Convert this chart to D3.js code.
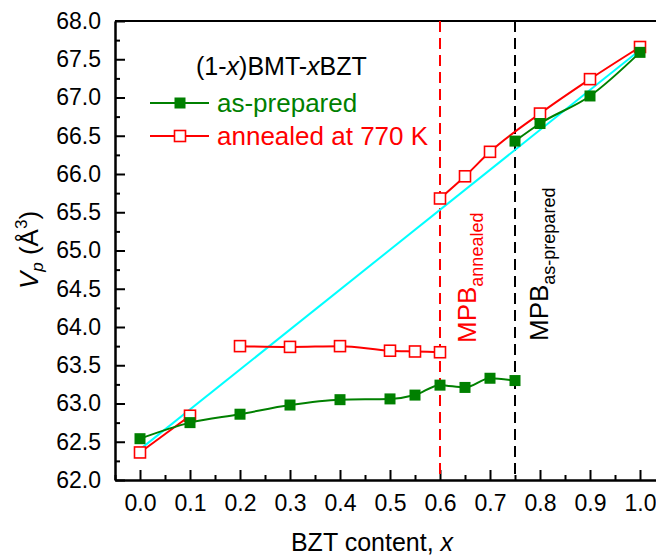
<!DOCTYPE html>
<html>
<head>
<meta charset="utf-8">
<script src="https://cdn.jsdelivr.net/npm/d3@7"></script>
<style>
  body { margin: 0; background: #fff; }
  svg { display: block; font-family: "Liberation Sans", Arial, sans-serif; }
  .axis text { font-size: 23px; fill: #000; }
  .axis path, .axis line { stroke: #000; stroke-width: 2px; }
</style>
</head>
<body>
<div id="chart"></div>
<script>
// BZT content x for each series
var xPrepLow = [0.0, 0.1, 0.2, 0.3, 0.4, 0.5, 0.55, 0.6, 0.65, 0.7, 0.75];
var vPrepLow = [62.54, 62.75, 62.86, 62.98, 63.05, 63.06, 63.11, 63.24, 63.21, 63.33, 63.30];
var xPrepHigh = [0.75, 0.8, 0.9, 1.0];
var vPrepHigh = [66.43, 66.66, 67.02, 67.59];

var xAnnA = [0.0, 0.1];
var vAnnA = [62.36, 62.84];
var xAnnLow = [0.2, 0.3, 0.4, 0.5, 0.55, 0.6];
var vAnnLow = [63.75, 63.74, 63.75, 63.69, 63.68, 63.67];
var xAnnHigh = [0.6, 0.65, 0.7, 0.8, 0.9, 1.0];
var vAnnHigh = [65.68, 65.97, 66.29, 66.79, 67.24, 67.66];

// straight reference line (Vegard)
var xFit = [0.0, 1.0];
var vFit = [62.40, 67.62];

// MPB positions
var mpbAnnealed = 0.6;
var mpbPrepared = 0.75;

var xTicks = [0.0, 0.1, 0.2, 0.3, 0.4, 0.5, 0.6, 0.7, 0.8, 0.9, 1.0];
var yTicks = [62.0, 62.5, 63.0, 63.5, 64.0, 64.5, 65.0, 65.5, 66.0, 66.5, 67.0, 67.5, 68.0];

var W = 656, H = 555;
var margin = { top: 21, left: 115, bottom: 75 };

var svg = d3.select("#chart").append("svg")
    .attr("width", W)
    .attr("height", H);

var x = d3.scaleLinear().domain([-0.05, 1.05]).range([margin.left, 665]);
var y = d3.scaleLinear().domain([62, 68]).range([H - margin.bottom, margin.top]);

var GREEN = "#008000", RED = "#ff0000", CYAN = "#00ffff";

// minor ticks
var xMinor = d3.range(-0.05, 1.06, 0.1).map(function (d) { return +d.toFixed(2); });
var yMinor = d3.range(62.25, 68, 0.5);

svg.append("g").attr("class", "axis")
    .attr("transform", "translate(0," + y(62) + ")")
    .call(d3.axisBottom(x).tickValues(xMinor).tickSizeInner(-5).tickSizeOuter(0).tickFormat(""));
svg.append("g").attr("class", "axis")
    .attr("transform", "translate(" + x(-0.05) + ",0)")
    .call(d3.axisLeft(y).tickValues(yMinor).tickSizeInner(-5).tickSizeOuter(0).tickFormat(""));

svg.append("g").attr("class", "axis")
    .attr("transform", "translate(0," + y(62) + ")")
    .call(d3.axisBottom(x).tickValues(xTicks).tickSizeInner(-10).tickSizeOuter(0)
        .tickPadding(15).tickFormat(d3.format(".1f")));
svg.append("g").attr("class", "axis")
    .attr("transform", "translate(" + x(-0.05) + ",0)")
    .call(d3.axisLeft(y).tickValues(yTicks).tickSizeInner(-10).tickSizeOuter(0)
        .tickPadding(14).tickFormat(d3.format(".1f")));

// top frame line
svg.append("line")
    .attr("x1", x(-0.05)).attr("x2", x(1.05))
    .attr("y1", y(68)).attr("y2", y(68))
    .attr("stroke", "#000").attr("stroke-width", 2);

// MPB dashed lines
[[mpbAnnealed, RED], [mpbPrepared, "#000"]].forEach(function (m) {
    svg.append("line")
        .attr("x1", x(m[0])).attr("x2", x(m[0]))
        .attr("y1", y(68)).attr("y2", y(62))
        .attr("stroke", m[1]).attr("stroke-width", 2)
        .attr("stroke-dasharray", "11,6");
});

function zip(xs, vs) { return xs.map(function (d, i) { return [d, vs[i]]; }); }

var line = d3.line()
    .x(function (d) { return x(d[0]); })
    .y(function (d) { return y(d[1]); })
    .curve(d3.curveMonotoneX);

// reference line
svg.append("path")
    .attr("d", line(zip(xFit, vFit)))
    .attr("fill", "none").attr("stroke", CYAN).attr("stroke-width", 2);

var S = 11;
function drawSeries(pts, color, filled) {
    svg.append("path")
        .attr("d", line(pts))
        .attr("fill", "none").attr("stroke", color).attr("stroke-width", 2);
    svg.append("g").selectAll("rect")
        .data(pts).enter().append("rect")
        .attr("x", function (d) { return x(d[0]) - S / 2; })
        .attr("y", function (d) { return y(d[1]) - S / 2; })
        .attr("width", S).attr("height", S)
        .attr("fill", filled ? color : "#fff")
        .attr("stroke", color).attr("stroke-width", filled ? 0 : 1.6);
}

drawSeries(zip(xAnnA, vAnnA), RED, false);
drawSeries(zip(xAnnLow, vAnnLow), RED, false);
drawSeries(zip(xAnnHigh, vAnnHigh), RED, false);
drawSeries(zip(xPrepLow, vPrepLow), GREEN, true);
drawSeries(zip(xPrepHigh, vPrepHigh), GREEN, true);

// legend
var lg = svg.append("g");
var title = lg.append("text").attr("x", 196).attr("y", 75).attr("font-size", 25);
title.append("tspan").text("(1-");
title.append("tspan").attr("font-style", "italic").text("x");
title.append("tspan").text(")BMT-");
title.append("tspan").attr("font-style", "italic").text("x");
title.append("tspan").text("BZT");

[["as-prepared", GREEN, true, 103], ["annealed at 770 K", RED, false, 136]].forEach(function (e) {
    lg.append("line").attr("x1", 150).attr("x2", 209).attr("y1", e[3]).attr("y2", e[3])
        .attr("stroke", e[1]).attr("stroke-width", 2);
    lg.append("rect").attr("x", 180 - S / 2).attr("y", e[3] - S / 2).attr("width", S).attr("height", S)
        .attr("fill", e[2] ? e[1] : "#fff").attr("stroke", e[1]).attr("stroke-width", e[2] ? 0 : 1.6);
    lg.append("text").attr("x", 217).attr("y", e[3] + 9).attr("font-size", 26)
        .attr("fill", e[1]).text(e[0]);
});

// MPB labels
function mpbLabel(xv, dx, yPos, sub, color) {
    var t = svg.append("text")
        .attr("transform", "translate(" + (x(xv) + dx) + "," + yPos + ") rotate(-90)")
        .attr("fill", color).attr("font-size", 26);
    t.append("tspan").text("MPB");
    t.append("tspan").attr("font-size", 18).attr("dy", 7).text(sub);
}
mpbLabel(mpbAnnealed, 36, 343, "annealed", RED);
mpbLabel(mpbPrepared, 33, 341, "as-prepared", "#000");

// axis titles
var xt = svg.append("text").attr("x", 372).attr("y", 551).attr("text-anchor", "middle").attr("font-size", 25);
xt.append("tspan").text("BZT content, ");
xt.append("tspan").attr("font-style", "italic").text("x");

var yt = svg.append("text")
    .attr("transform", "translate(38,250) rotate(-90)")
    .attr("text-anchor", "middle").attr("font-size", 26);
yt.append("tspan").attr("font-style", "italic").text("V");
yt.append("tspan").attr("font-style", "italic").attr("font-size", 17).attr("dy", 5).text("p");
yt.append("tspan").attr("dy", -5).text(" (Å");
yt.append("tspan").attr("font-size", 17).attr("dy", -11).text("3");
yt.append("tspan").attr("dy", 11).text(")");
</script>
</body>
</html>
